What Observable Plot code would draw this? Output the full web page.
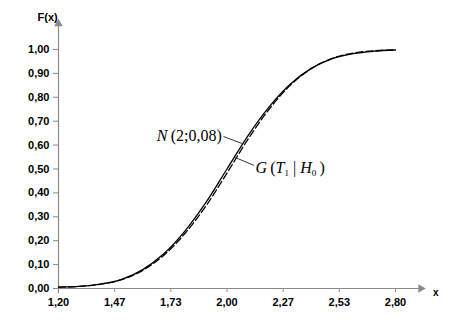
<!DOCTYPE html>
<html><head><meta charset="utf-8">
<script src="https://cdn.jsdelivr.net/npm/d3@7"></script>
<script src="https://cdn.jsdelivr.net/npm/@observablehq/plot@0.6"></script>
<style>body{margin:0;background:#fff} svg{display:block}</style>
</head><body><div id="chart"></div>
<script>
// x positions sampled along the curves
const xs = [1.2,1.3,1.4,1.5,1.6,1.7,1.8,1.9,2.0,2.1,2.2,2.3,2.4,2.5,2.6,2.7,2.8];
// N(2;0,08) – solid curve
const nVals = [0.006,0.009,0.018,0.038,0.079,0.145,0.24,0.36,0.50,0.64,0.76,0.855,0.921,0.962,0.983,0.993,0.998];
// G(T1|H0) – dashed curve
const gVals = [0.006,0.009,0.018,0.037,0.076,0.139,0.23,0.345,0.483,0.625,0.75,0.85,0.92,0.963,0.985,0.995,0.999];

const xTicks = [1.2,1.4667,1.7333,2.0,2.2667,2.5333,2.8];
const xTickLabels = ["1,20","1,47","1,73","2,00","2,27","2,53","2,80"];
const yTicks = [0,0.1,0.2,0.3,0.4,0.5,0.6,0.7,0.8,0.9,1.0];
const yTickLabels = ["0,00","0,10","0,20","0,30","0,40","0,50","0,60","0,70","0,80","0,90","1,00"];

const labelN = "N(2;0,08)";
const labelG = "G(T1|H0)";
// annotation anchors (data space): text point and leader line ends
const noteN = [{text: labelN, x: 1.975, y: 0.64, x1: 1.983, y1: 0.636, x2: 2.07, y2: 0.607}];
const noteG = [{text: labelG, x: 2.135, y: 0.506, x1: 2.04, y1: 0.548, x2: 2.128, y2: 0.515}];
const axisEnds = {xMin: 1.2, xMax: 2.935, yMin: 0, yMax: 1.12};

const nData = xs.map((x, i) => ({x, f: nVals[i]}));
const gData = xs.map((x, i) => ({x, f: gVals[i]}));
const axisLines = [
  {x1: axisEnds.xMin, y1: axisEnds.yMin, x2: axisEnds.xMax - 0.02, y2: axisEnds.yMin},
  {x1: axisEnds.xMin, y1: axisEnds.yMin - 0.02, x2: axisEnds.xMin, y2: axisEnds.yMax - 0.02}
];
const arrowHeads = [
  {x: axisEnds.xMax - 0.015, y: axisEnds.yMin, rot: 90},
  {x: axisEnds.xMin, y: axisEnds.yMax - 0.012, rot: 0}
];
const serif = "'Liberation Serif', 'Times New Roman', serif";

const plot = Plot.plot({
  width: 453, height: 336,
  marginLeft: 58, marginRight: 58, marginTop: 49, marginBottom: 48,
  style: {background: "#fff", fontFamily: "'Liberation Sans', Arial, sans-serif", color: "black"},
  x: {domain: [1.2, 2.8]},
  y: {domain: [0, 1]},
  marks: [
    Plot.link(axisLines, {x1: "x1", y1: "y1", x2: "x2", y2: "y2", stroke: "#8a8a8a", strokeWidth: 1.2}),
    Plot.dot(arrowHeads, {x: "x", y: "y", rotate: "rot", symbol: "triangle", r: 3.2, fill: "#8a8a8a", stroke: "none"}),
    Plot.axisX({ticks: xTicks, tickFormat: d => xTickLabels[xTicks.indexOf(d)], tickSize: 4, tickPadding: 6,
      stroke: "#8a8a8a", color: "black", fontWeight: "bold", fontSize: 11, label: null}),
    Plot.axisY({ticks: yTicks, tickFormat: d => yTickLabels[yTicks.indexOf(d)], tickSize: 5, tickPadding: 4,
      stroke: "#8a8a8a", color: "black", fontWeight: "bold", fontSize: 11, label: null}),
    Plot.line(nData, {x: "x", y: "f", curve: "monotone-x", stroke: "black", strokeWidth: 1.3}),
    Plot.line(gData, {x: "x", y: "f", curve: "monotone-x", stroke: "black", strokeWidth: 1.3, strokeDasharray: "7,3"}),
    Plot.link(noteN.concat(noteG), {x1: "x1", y1: "y1", x2: "x2", y2: "y2", stroke: "#333", strokeWidth: 1}),
    Plot.text(noteN, {x: "x", y: "y", text: "text", textAnchor: "end", fontFamily: serif, fontSize: 16, fill: "black"}),
    Plot.text(noteG, {x: "x", y: "y", text: "text", textAnchor: "start", fontFamily: serif, fontSize: 16, fill: "black"}),
    Plot.text(["x"], {frameAnchor: "bottom-right", dx: 43, dy: 7, fontWeight: "bold", fontSize: 10, fill: "black"}),
    Plot.text(["F(x)"], {frameAnchor: "top-left", dx: -21, dy: -36, fontWeight: "bold", fontSize: 11, fill: "black"})
  ]
});

// rich formatting for the math labels
d3.select(plot).selectAll("text").each(function() {
  const t = this.textContent;
  const sel = d3.select(this);
  if (t === labelN) {
    sel.text(null);
    sel.append("tspan").attr("font-style", "italic").text("N");
    sel.append("tspan").text("\u2009(2;0,08)");
  } else if (t === labelG) {
    sel.text(null);
    sel.append("tspan").attr("font-style", "italic").text("G");
    sel.append("tspan").text("\u2009(");
    sel.append("tspan").attr("font-style", "italic").text("T");
    sel.append("tspan").attr("font-size", 9).attr("dy", 3).text("1");
    sel.append("tspan").attr("dy", -3).text(" | ");
    sel.append("tspan").attr("font-style", "italic").text("H");
    sel.append("tspan").attr("font-size", 9).attr("dy", 3).text("0");
    sel.append("tspan").attr("dy", -3).text("\u2009)");
  }
});

document.getElementById("chart").appendChild(plot);
</script>
</body></html>
